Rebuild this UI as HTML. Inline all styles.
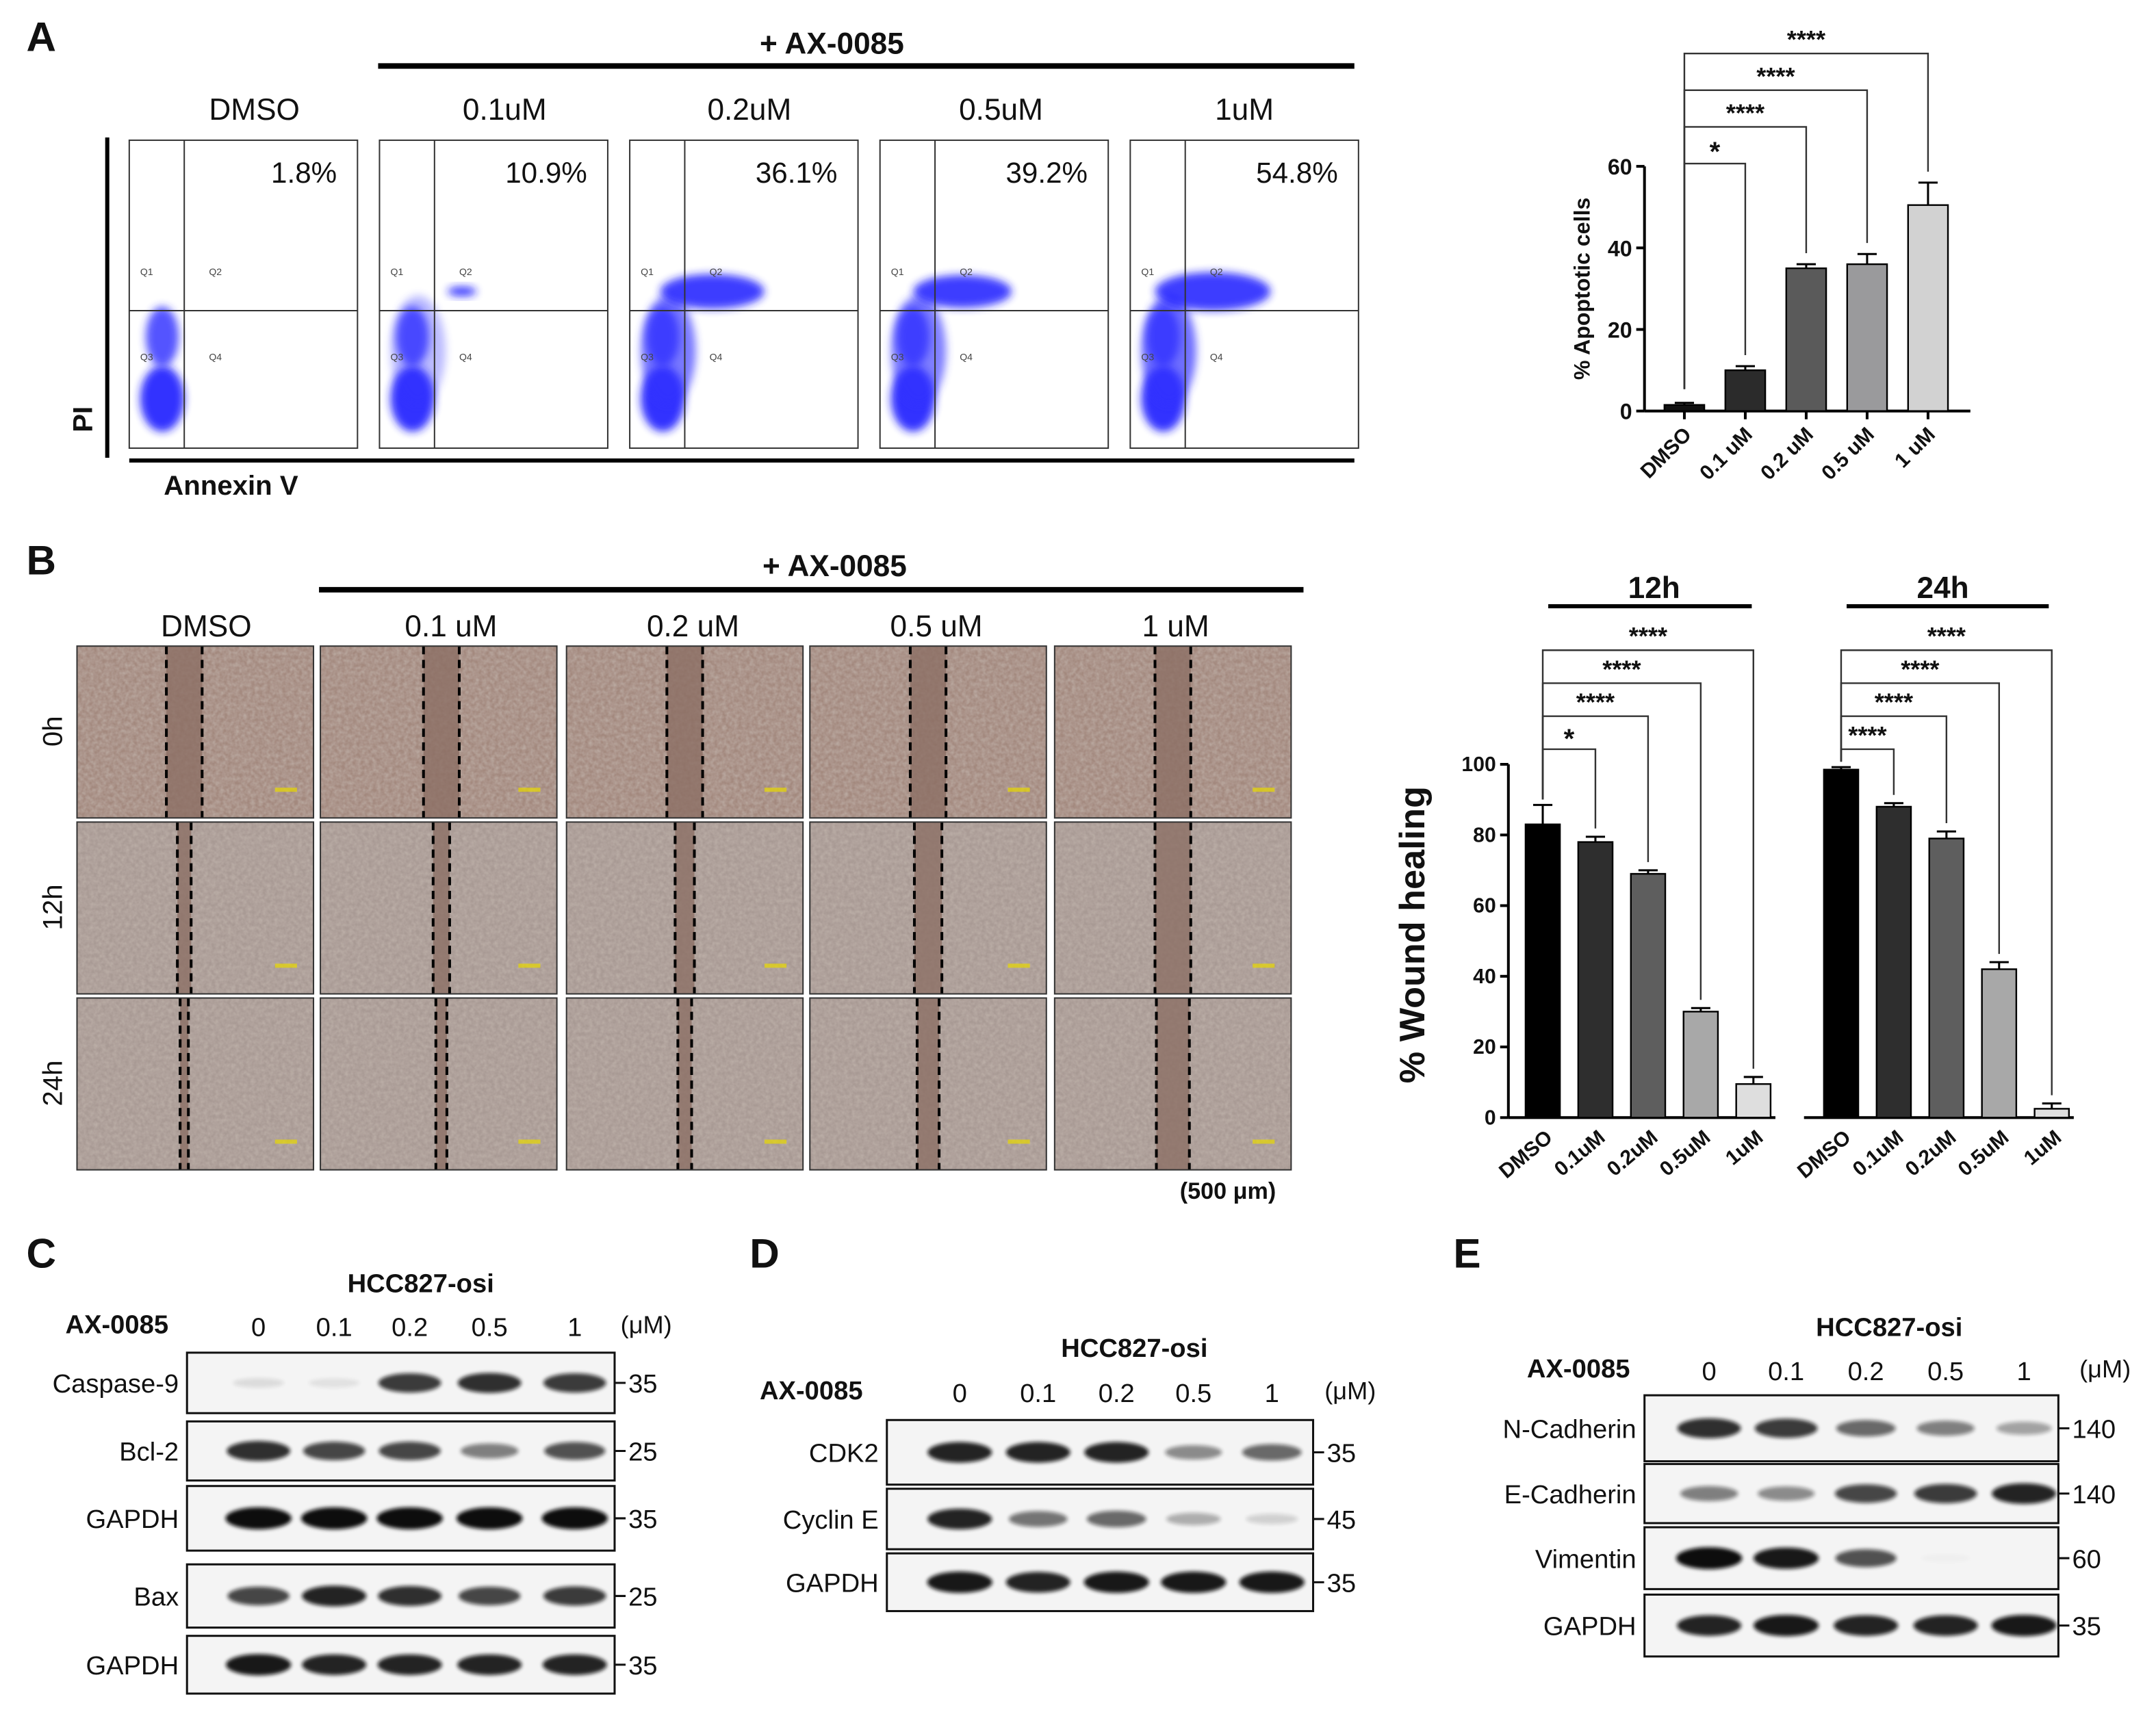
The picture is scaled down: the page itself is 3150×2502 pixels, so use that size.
<!DOCTYPE html>
<html><head><meta charset="utf-8"><style>
html,body{margin:0;padding:0;background:#fff}
svg{display:block}
text{font-family:"Liberation Sans",Arial,sans-serif}
</style></head><body>
<svg id="fig" width="3150" height="2502" viewBox="0 0 1568 1245.4" preserveAspectRatio="none" xmlns="http://www.w3.org/2000/svg">
<defs>
<filter id="blur" x="-50%" y="-50%" width="200%" height="200%"><feGaussianBlur stdDeviation="3"/></filter>
<filter id="blurS" x="-50%" y="-50%" width="200%" height="200%"><feGaussianBlur stdDeviation="1.5"/></filter>
<filter id="tex" x="0" y="0" width="100%" height="100%"><feTurbulence type="fractalNoise" baseFrequency="0.35" numOctaves="2" seed="3"/><feColorMatrix type="matrix" values="0 0 0 0 0.55  0 0 0 0 0.47  0 0 0 0 0.43  0 0 0 -1.4 1.1"/></filter>
</defs>
<g id="root"></g>
</svg>
<script>
const NS='http://www.w3.org/2000/svg';
const root=document.getElementById('root');
function el(tag,attrs,parent){const e=document.createElementNS(NS,tag);for(const k in attrs)e.setAttribute(k,attrs[k]);(parent||root).appendChild(e);return e;}
function txt(x,y,s,size,opts,parent){opts=opts||{};const t=el('text',{x:x,y:y,'font-size':size,'text-anchor':opts.anchor||'middle','font-weight':opts.bold?'bold':'normal',fill:opts.fill||'#111'},parent);if(opts.rot)t.setAttribute('transform','rotate('+opts.rot+' '+x+' '+y+')');t.textContent=s;return t;}

/* ===== Panel A: flow cytometry ===== */
const flowLabels=['DMSO','0.1uM','0.2uM','0.5uM','1uM'];
const flowPct=['1.8%','10.9%','36.1%','39.2%','54.8%'];
const flowUpper=[0.05,0.25,0.9,0.85,1.0];
const flowX=[94,276,458,640,822];
const flowLabelX=[185,367,545,728,905];
let gA=el('g',{});


txt(30,37,'A',30,{bold:true},gA);
txt(605,39,'+ AX-0085',22,{bold:true},gA);
el('line',{x1:275,y1:48,x2:985,y2:48,stroke:'#000','stroke-width':4},gA);
flowX.forEach((x,i)=>{
  txt(flowLabelX[i],87,flowLabels[i],22,{},gA);
  const g=el('g',{},gA);
  
  
  el('rect',{x:x,y:102,width:166,height:224,fill:'#fff',stroke:'#333','stroke-width':1},g);
  const u=flowUpper[i];
  el('ellipse',{cx:x+24,cy:290,rx:16,ry:24,fill:'#1a1aff',opacity:0.9,filter:'url(#blur)'},g);
  el('ellipse',{cx:x+24,cy:245,rx:12,ry:22,fill:'#2a2aff',opacity:0.8,filter:'url(#blur)'},g);
  if(i>0){el('ellipse',{cx:x+28,cy:255,rx:20,ry:40,fill:'#3030ff',opacity:0.5*u+0.2,filter:'url(#blur)'},g);}
  if(u>0.2){el('ellipse',{cx:x+60,cy:212,rx:42*u,ry:14*u,fill:'#1a1aff',opacity:0.85,filter:'url(#blur)'},g);}
  el('line',{x1:x+40,y1:102,x2:x+40,y2:326,stroke:'#333','stroke-width':1},g);
  el('line',{x1:x,y1:226,x2:x+166,y2:226,stroke:'#333','stroke-width':1},g);
  txt(x+151,133,flowPct[i],21,{anchor:'end'},g);
  ['Q1','Q2','Q3','Q4'].forEach((q,k)=>{txt(x+(k%2?58:8),(k<2?200:262),q,7,{anchor:'start',fill:'#444'},g);});
});
el('line',{x1:78,y1:100,x2:78,y2:333,stroke:'#000','stroke-width':3},gA);
el('line',{x1:94,y1:335,x2:985,y2:335,stroke:'#000','stroke-width':3},gA);
txt(67,305,'PI',20,{bold:true,rot:-90},gA);
txt(168,360,'Annexin V',20,{bold:true},gA);

/* ===== Panel A: apoptosis bar chart ===== */
const apoCats=['DMSO','0.1 uM','0.2 uM','0.5 uM','1 uM'];
const apoVals=[1.5,10,35,36,50.5];
const apoErr=[0.5,1,1,2.5,5.5];
const apoSig=['*','****','****','****'];
const apoTicks=[0,20,40,60];
const apoColors=['#111','#2b2b2b','#5a5a5a','#9a9a9c','#d2d2d2'];
(function(){
  const g=el('g',{});
  
  
  const y=v=>299-v*(178/60);
  const x0=1196,bw=29;
  const cx=i=>1225+i*44.3;
  el('line',{x1:x0,y1:y(0),x2:x0,y2:y(60),stroke:'#000','stroke-width':2},g);
  el('line',{x1:x0,y1:y(0),x2:1433,y2:y(0),stroke:'#000','stroke-width':2},g);
  apoTicks.forEach(t=>{el('line',{x1:x0-6,y1:y(t),x2:x0,y2:y(t),stroke:'#000','stroke-width':2},g);txt(x0-9,y(t)+6,String(t),16,{anchor:'end',bold:true},g);});
  txt(1156,210,'% Apoptotic cells',16,{bold:true,rot:-90},g);
  apoVals.forEach((v,i)=>{
    const b=el('rect',{x:cx(i)-bw/2,y:y(v),width:bw,height:y(0)-y(v),fill:apoColors[i],stroke:'#000','stroke-width':1.2},g);
    
    
    el('line',{x1:cx(i),y1:y(0),x2:cx(i),y2:y(0)+6,stroke:'#000','stroke-width':2},g);
    el('line',{x1:cx(i),y1:y(v),x2:cx(i),y2:y(v+apoErr[i]),stroke:'#000','stroke-width':1.5},g);
    el('line',{x1:cx(i)-7,y1:y(v+apoErr[i]),x2:cx(i)+7,y2:y(v+apoErr[i]),stroke:'#000','stroke-width':1.5},g);
    txt(cx(i)+6,y(0)+18,apoCats[i],15,{anchor:'end',bold:true,rot:-45},g);
  });
  apoSig.forEach((s,k)=>{
    const by=119-k*26.7, xs=cx(0), xe=cx(k+1);
    el('polyline',{points:xs+','+(y(apoVals[0]+apoErr[0])-10)+' '+xs+','+by+' '+xe+','+by+' '+xe+','+(y(apoVals[k+1]+apoErr[k+1])-8),fill:'none',stroke:'#333','stroke-width':1.2},g);
    txt((xs+xe)/2,by-4+(s==='*'?2:0),s,s==='*'?20:18,{bold:true},g);
  });
})();

/* ===== Panel B: wound images ===== */
const woundCols=['DMSO','0.1 uM','0.2 uM','0.5 uM','1 uM'];
const woundRows=['0h','12h','24h'];
const woundGap=[[26,26,26,26,26],[10,12,14,20,26],[6,8,10,16,24]];
const colX=[56,233,412,589,767], rowY=[470,598,726];
const woundLabelX=[150,328,504,681,855];
(function(){
  const g=el('g',{});
  
  
  txt(30,418,'B',30,{bold:true},g);
  txt(607,419,'+ AX-0085',22,{bold:true},g);
  el('line',{x1:232,y1:429,x2:948,y2:429,stroke:'#000','stroke-width':4},g);
  colX.forEach((x,i)=>txt(woundLabelX[i],463,woundCols[i],22,{},g));
  rowY.forEach((y,r)=>txt(45,y+62,woundRows[r],20,{rot:-90},g));
  rowY.forEach((y,r)=>colX.forEach((x,c)=>{
    const w=172,h=125;
    const gi=el('g',{},g);
    
    
    el('rect',{x:x,y:y,width:w,height:h,fill:r===0?'#a3897e':'#a89a94'},gi);
    el('rect',{x:x,y:y,width:w,height:h,filter:'url(#tex)',opacity:0.7},gi);
    const cx=x+w/2-(c===0?8:0)+(c===1?2:0), gp=woundGap[r][c];
    el('rect',{x:cx-gp/2,y:y,width:gp,height:h,fill:'#8a6c62',opacity:0.75},gi);
    el('line',{x1:cx-gp/2,y1:y,x2:cx-gp/2,y2:y+h,stroke:'#000','stroke-width':2,'stroke-dasharray':'6,4'},gi);
    el('line',{x1:cx+gp/2,y1:y,x2:cx+gp/2,y2:y+h,stroke:'#000','stroke-width':2,'stroke-dasharray':'6,4'},gi);
    el('rect',{x:x+w-28,y:y+h-22,width:16,height:3,fill:'#e8d800',opacity:0.7},gi);
    el('rect',{x:x,y:y,width:w,height:h,fill:'none',stroke:'#333','stroke-width':1},gi);
  }));
  txt(893,872,'(500 μm)',17,{bold:true},g);
})();

/* ===== Panel B: wound healing bar chart ===== */
const whCats=['DMSO','0.1uM','0.2uM','0.5uM','1uM'];
const wh12=[83,78,69,30,9.5];
const wh12Err=[5.5,1.5,1,1,2];
const wh24=[98.5,88,79,42,2.5];
const wh24Err=[0.7,1,2,2,1.5];
const whSig12=['*','****','****','****'];
const whSig24=['****','****','****','****'];
const whTicks=[0,20,40,60,80,100];
const whColors=['#000','#2e2e2e','#5e5e5e','#a8a8a8','#dedede'];
(function(){
  const g=el('g',{});
  
  
  const y=v=>813-v*2.57;
  const x0=1097;
  el('line',{x1:x0,y1:y(0),x2:x0,y2:y(100),stroke:'#000','stroke-width':2},g);
  whTicks.forEach(t=>{el('line',{x1:x0-6,y1:y(t),x2:x0,y2:y(t),stroke:'#000','stroke-width':2},g);txt(x0-9,y(t)+5,String(t),15,{anchor:'end',bold:true},g);});
  txt(1036,680,'% Wound healing',26,{bold:true,rot:-90},g);
  const groups=[{vals:wh12,err:wh12Err,sig:whSig12,start:1122,label:'12h',hx:1203,l1:1126,l2:1274},
                {vals:wh24,err:wh24Err,sig:whSig24,start:1339,label:'24h',hx:1413,l1:1343,l2:1490}];
  groups.forEach((G,gi)=>{
    const cx=i=>G.start+i*38.3, bw=25;
    el('line',{x1:gi?1312:x0,y1:y(0),x2:cx(4)+16,y2:y(0),stroke:'#000','stroke-width':2},g);
    txt(G.hx,435,G.label,22,{bold:true},g);
    el('line',{x1:G.l1,y1:441,x2:G.l2,y2:441,stroke:'#000','stroke-width':3},g);
    G.vals.forEach((v,i)=>{
      const b=el('rect',{x:cx(i)-bw/2,y:y(v),width:bw,height:y(0)-y(v),fill:whColors[i],stroke:'#000','stroke-width':1.2},g);
      
      
      const te=y(v+G.err[i]);
      el('line',{x1:cx(i),y1:y(v),x2:cx(i),y2:te,stroke:'#000','stroke-width':1.5},g);
      el('line',{x1:cx(i)-7,y1:te,x2:cx(i)+7,y2:te,stroke:'#000','stroke-width':1.5},g);
      txt(cx(i)+8,y(0)+16,whCats[i],15,{anchor:'end',bold:true,rot:-40},g);
    });
    G.sig.forEach((s,k)=>{
      const by=545-k*24, xe=cx(k+1);
      el('polyline',{points:G.start+','+(y(G.vals[0]+G.err[0])-4)+' '+G.start+','+by+' '+xe+','+by+' '+xe+','+(y(G.vals[k+1]+G.err[k+1])-6),fill:'none',stroke:'#333','stroke-width':1.2},g);
      txt((G.start+xe)/2,by-4+(s==='*'?3:0),s,s==='*'?20:18,{bold:true},g);
    });
  });
})();

/* ===== Western blots ===== */
const blotC_rows=['Caspase-9','Bcl-2','GAPDH','Bax','GAPDH'];
const blotC_kda=['35','25','35','25','35'];
const blotC_int=[[0.1,0.08,0.8,0.85,0.8],[0.85,0.75,0.75,0.5,0.7],[1,1,1,1,1],[0.75,0.9,0.85,0.75,0.8],[0.95,0.9,0.9,0.9,0.9]];
const blotD_rows=['CDK2','Cyclin E','GAPDH'];
const blotD_kda=['35','45','35'];
const blotD_int=[[0.9,0.9,0.9,0.45,0.6],[0.9,0.55,0.6,0.3,0.15],[0.95,0.9,0.95,0.95,0.95]];
const blotE_rows=['N-Cadherin','E-Cadherin','Vimentin','GAPDH'];
const blotE_kda=['140','140','60','35'];
const blotE_int=[[0.85,0.8,0.6,0.5,0.35],[0.5,0.45,0.75,0.8,0.9],[1,0.95,0.7,0.02,0],[0.9,0.95,0.9,0.9,0.95]];
const doseLabels=['0','0.1','0.2','0.5','1'];
function blot(cfg){
  const g=el('g',{});
  
  
  txt(cfg.lx,cfg.ly,cfg.letter,30,{bold:true},g);
  txt(cfg.hx,cfg.hy,'HCC827-osi',19,{bold:true},g);
  txt(cfg.ax,cfg.dy,'AX-0085',19,{bold:true},g);
  cfg.lanes.forEach((lx,i)=>txt(lx,cfg.dy+2,doseLabels[i],19,{},g));
  txt(cfg.mux,cfg.dy,'(μM)',18,{},g);
  cfg.boxes.forEach((b,r)=>{
    const gr=el('g',{},g);
    
    
    el('rect',{x:cfg.x1,y:b[0],width:cfg.x2-cfg.x1,height:b[1]-b[0],fill:'#f4f4f4',stroke:'#111','stroke-width':1.5},gr);
    const cy=(b[0]+b[1])/2;
    cfg.ints[r].forEach((v,i)=>{
      if(v<=0)return;
      el('ellipse',{cx:cfg.lanes[i],cy:cy,rx:18+6*v,ry:3+5*v,fill:'#111',opacity:Math.min(1,v),filter:'url(#blurS)'},gr);
    });
    txt(cfg.x1-6,cy+7,cfg.rows[r],19,{anchor:'end'},gr);
    el('line',{x1:cfg.x2,y1:cy,x2:cfg.x2+8,y2:cy,stroke:'#111','stroke-width':1.5},gr);
    txt(cfg.x2+10,cy+7,cfg.kda[r],19,{anchor:'start'},gr);
  });
}
blot({name:'panel-c-blot',letter:'C',lx:30,ly:922,hx:306,hy:940,ax:85,dy:970,mux:470,x1:136,x2:447,
  lanes:[188,243,298,356,418],rows:blotC_rows,kda:blotC_kda,ints:blotC_int,
  boxes:[[984,1028],[1034,1077],[1081,1128],[1138,1184],[1190,1232]]});
blot({name:'panel-d-blot',letter:'D',lx:556,ly:922,hx:825,hy:987,ax:590,dy:1018,mux:982,x1:645,x2:955,
  lanes:[698,755,812,868,925],rows:blotD_rows,kda:blotD_kda,ints:blotD_int,
  boxes:[[1033,1080],[1083,1127],[1130,1172]]});
blot({name:'panel-e-blot',letter:'E',lx:1067,ly:922,hx:1374,hy:972,ax:1148,dy:1002,mux:1531,x1:1196,x2:1497,
  lanes:[1243,1299,1357,1415,1472],rows:blotE_rows,kda:blotE_kda,ints:blotE_int,
  boxes:[[1015,1063],[1065,1108],[1111,1156],[1160,1205]]});
</script>
</body></html>
